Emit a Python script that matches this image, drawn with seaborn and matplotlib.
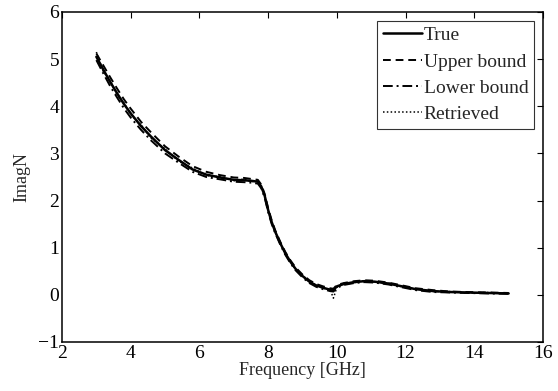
import matplotlib
matplotlib.use("Agg")
import matplotlib.pyplot as plt
import seaborn as sns
import pandas as pd

freq = [3.0, 3.2, 3.4, 3.6, 3.8, 4.0, 4.3, 4.6, 5.0, 5.4, 5.8, 6.2, 6.6, 7.0, 7.3, 7.5,
        7.7, 7.8, 7.9, 8.0, 8.1, 8.2, 8.35, 8.5, 8.65, 8.8, 9.0, 9.2, 9.4, 9.6, 9.8,
        9.9, 10.0, 10.2, 10.5, 10.8, 11.1, 11.5, 11.9, 12.3, 12.8, 13.3, 13.8, 14.4, 15.0]
true_vals = [5.05, 4.78, 4.52, 4.28, 4.05, 3.85, 3.58, 3.35, 3.07, 2.86, 2.66, 2.55, 2.49, 2.44, 2.43, 2.42,
             2.40, 2.30, 2.10, 1.80, 1.55, 1.35, 1.10, 0.88, 0.70, 0.55, 0.40, 0.28, 0.20, 0.15, 0.11,
             0.10, 0.18, 0.23, 0.27, 0.29, 0.28, 0.24, 0.18, 0.12, 0.08, 0.06, 0.05, 0.04, 0.03]
upper_vals = [5.12, 4.87, 4.62, 4.38, 4.15, 3.95, 3.67, 3.44, 3.15, 2.93, 2.73, 2.61, 2.54, 2.49, 2.48, 2.46,
              2.44, 2.34, 2.14, 1.84, 1.59, 1.38, 1.13, 0.91, 0.73, 0.58, 0.43, 0.31, 0.23, 0.18, 0.14,
              0.13, 0.21, 0.25, 0.29, 0.31, 0.30, 0.26, 0.20, 0.14, 0.10, 0.07, 0.06, 0.05, 0.04]
lower_vals = [4.98, 4.70, 4.43, 4.19, 3.96, 3.76, 3.50, 3.27, 3.00, 2.80, 2.61, 2.50, 2.45, 2.40, 2.39, 2.38,
              2.36, 2.26, 2.06, 1.76, 1.51, 1.32, 1.07, 0.85, 0.67, 0.52, 0.37, 0.25, 0.17, 0.12, 0.08,
              0.07, 0.15, 0.21, 0.25, 0.27, 0.26, 0.22, 0.16, 0.10, 0.06, 0.05, 0.04, 0.03, 0.02]
retrieved_vals = [5.15, 4.74, 4.55, 4.24, 4.08, 3.82, 3.61, 3.32, 3.10, 2.83, 2.69, 2.53, 2.51, 2.42, 2.46, 2.40,
                  2.42, 2.28, 2.12, 1.78, 1.57, 1.33, 1.12, 0.86, 0.72, 0.53, 0.42, 0.27, 0.21, 0.14, 0.12,
                  -0.07, 0.16, 0.24, 0.26, 0.30, 0.27, 0.25, 0.17, 0.13, 0.07, 0.07, 0.04, 0.05, 0.03]

sns.set_theme(style="white")
plt.rcParams['font.family'] = ['Liberation Serif', 'DejaVu Serif']

fig = plt.figure(figsize=(5.58, 3.91), dpi=100)
ax = fig.add_axes([62/558, 1 - 342/391, (543-62)/558, (342-12)/391])

df = pd.DataFrame({"freq": freq, "true": true_vals, "upper": upper_vals,
                   "lower": lower_vals, "retr": retrieved_vals})

sns.lineplot(data=df, x="freq", y="true", ax=ax, color="black", lw=1.8, linestyle="-", label="True")
sns.lineplot(data=df, x="freq", y="upper", ax=ax, color="black", lw=1.4, linestyle=(0, (4, 2.5)), label="Upper bound")
sns.lineplot(data=df, x="freq", y="lower", ax=ax, color="black", lw=1.4, linestyle=(0, (5, 2, 1, 2)), label="Lower bound")
sns.lineplot(data=df, x="freq", y="retr", ax=ax, color="black", lw=1.1, linestyle=(0, (1, 1.5)), label="Retrieved")

ax.set_xlim(2, 16)
ax.set_ylim(-1, 6)
ax.set_xticks([2, 4, 6, 8, 10, 12, 14, 16])
ax.set_yticks([-1, 0, 1, 2, 3, 4, 5, 6])
ax.set_xlabel("Frequency [GHz]", fontsize=13, labelpad=0)
ax.set_ylabel("ImagN", fontsize=13, labelpad=6)
ax.tick_params(direction="in", length=4, width=0.8, top=True, right=True,
               labelsize=14, colors="black", pad=2)
for s in ax.spines.values():
    s.set_color("black")
    s.set_linewidth(1.1)

leg = ax.legend(loc="upper right", fontsize=14, handlelength=2.0, handletextpad=0.1,
                borderpad=0.3, labelspacing=0.45, frameon=True, fancybox=False,
                borderaxespad=0.45)
leg.get_frame().set_edgecolor("black")
leg.get_frame().set_linewidth(0.8)

fig.savefig("out.png", dpi=100)
